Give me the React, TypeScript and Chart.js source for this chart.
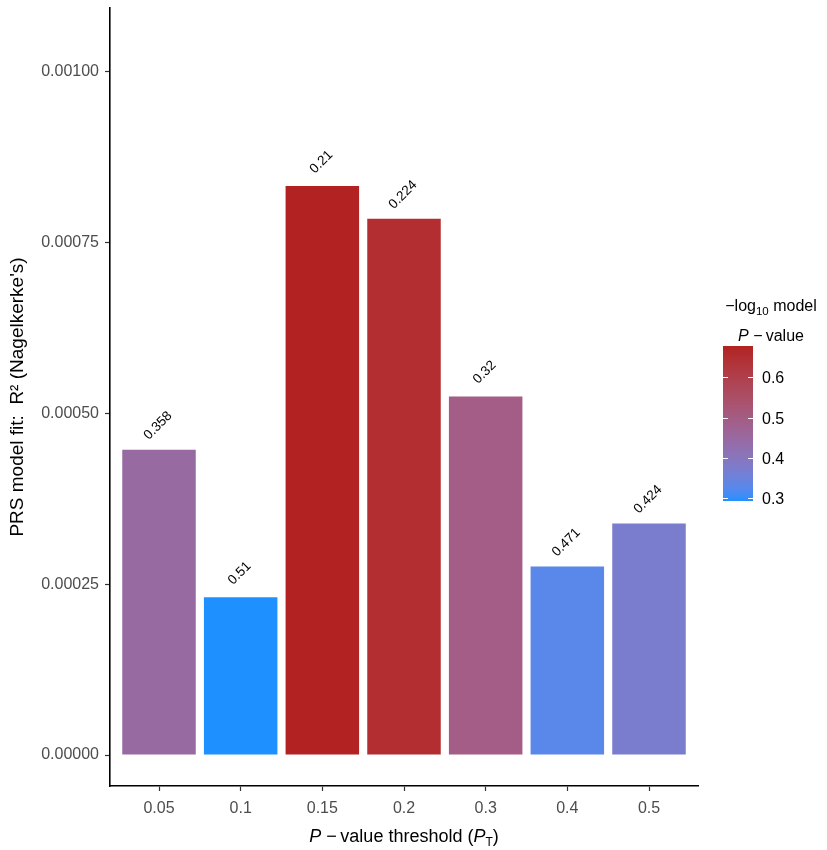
import React, { useRef, useEffect } from "react";
import { Chart, registerables } from "chart.js";

Chart.register(...registerables);

// P-value thresholds (x categories)
const thresholds = ["0.05", "0.1", "0.15", "0.2", "0.3", "0.4", "0.5"];
// PRS model fit R2 (Nagelkerke's)
const r2Values = [0.000447, 0.000231, 0.000833, 0.000785, 0.000525, 0.000276, 0.000339];
// model P-values printed above the bars
const modelP = [0.358, 0.51, 0.21, 0.224, 0.32, 0.471, 0.424];
const yTicks = [0, 0.00025, 0.0005, 0.00075, 0.001];
const legendTicks = [0.3, 0.4, 0.5, 0.6];

const LOW = "#1E90FF";
const HIGH = "#B22222";
const FONT = "'Liberation Sans', Arial, sans-serif";

// colour ramp in Lab space, like ggplot's scale_fill_gradient
const Xn = 0.95047, Yn = 1, Zn = 1.08883;
const toLin = (c: number) => {
  c /= 255;
  return c <= 0.04045 ? c / 12.92 : Math.pow((c + 0.055) / 1.055, 2.4);
};
const fromLin = (c: number) => {
  const v = c <= 0.0031308 ? 12.92 * c : 1.055 * Math.pow(c, 1 / 2.4) - 0.055;
  return Math.round(Math.max(0, Math.min(1, v)) * 255);
};
function hexToLab(hex: string) {
  const r = toLin(parseInt(hex.slice(1, 3), 16));
  const g = toLin(parseInt(hex.slice(3, 5), 16));
  const b = toLin(parseInt(hex.slice(5, 7), 16));
  const X = 0.4124564 * r + 0.3575761 * g + 0.1804375 * b;
  const Y = 0.2126729 * r + 0.7151522 * g + 0.072175 * b;
  const Z = 0.0193339 * r + 0.119192 * g + 0.9503041 * b;
  const f = (t: number) => (t > 216 / 24389 ? Math.cbrt(t) : ((24389 / 27) * t + 16) / 116);
  const fx = f(X / Xn), fy = f(Y / Yn), fz = f(Z / Zn);
  return [116 * fy - 16, 500 * (fx - fy), 200 * (fy - fz)];
}
function labToRgb(L: number, a: number, b: number) {
  const fy = (L + 16) / 116, fx = fy + a / 500, fz = fy - b / 200;
  const finv = (t: number) => (t * t * t > 216 / 24389 ? t * t * t : (116 * t - 16) / (24389 / 27));
  const X = Xn * finv(fx), Y = Yn * finv(fy), Z = Zn * finv(fz);
  const r = 3.2404542 * X - 1.5371385 * Y - 0.4985314 * Z;
  const g = -0.969266 * X + 1.8760108 * Y + 0.041556 * Z;
  const bb = 0.0556434 * X - 0.2040259 * Y + 1.0572252 * Z;
  return `rgb(${fromLin(r)},${fromLin(g)},${fromLin(bb)})`;
}
const labLow = hexToLab(LOW);
const labHigh = hexToLab(HIGH);
const scores = modelP.map((p) => -Math.log10(p));
const sMin = Math.min(...scores);
const sMax = Math.max(...scores);
const colorFor = (s: number) => {
  const t = (s - sMin) / (sMax - sMin);
  return labToRgb(
    labLow[0] + (labHigh[0] - labLow[0]) * t,
    labLow[1] + (labHigh[1] - labLow[1]) * t,
    labLow[2] + (labHigh[2] - labLow[2]) * t
  );
};

// draw rich text runs centred on x
type Run = { text: string; size: number; italic?: boolean; dy?: number };
function drawRuns(ctx: CanvasRenderingContext2D, runs: Run[], cx: number, baseline: number) {
  const font = (r: Run) => `${r.italic ? "italic " : ""}${r.size}px ${FONT}`;
  let total = 0;
  runs.forEach((r) => {
    ctx.font = font(r);
    total += ctx.measureText(r.text).width;
  });
  let x = cx - total / 2;
  ctx.textAlign = "left";
  ctx.textBaseline = "alphabetic";
  runs.forEach((r) => {
    ctx.font = font(r);
    ctx.fillText(r.text, x, baseline + (r.dy || 0));
    x += ctx.measureText(r.text).width;
  });
}

const extrasPlugin = {
  id: "extras",
  afterDraw(chart: any) {
    const ctx: CanvasRenderingContext2D = chart.ctx;
    const area = chart.chartArea;
    ctx.save();
    ctx.fillStyle = "#000";

    // bar labels, rotated 45 degrees
    const meta = chart.getDatasetMeta(0);
    meta.data.forEach((el: any, i: number) => {
      ctx.save();
      ctx.translate(el.x - 1, el.y - 24);
      ctx.rotate(-Math.PI / 4);
      ctx.font = `13.5px ${FONT}`;
      ctx.textAlign = "center";
      ctx.textBaseline = "middle";
      ctx.fillText(String(modelP[i]), 0, 0);
      ctx.restore();
    });

    // x axis title
    drawRuns(
      ctx,
      [
        { text: "P", size: 18, italic: true },
        { text: " \u2212\u2009value threshold (", size: 18 },
        { text: "P", size: 18, italic: true },
        { text: "T", size: 12, dy: 4 },
        { text: ")", size: 18 },
      ],
      (area.left + area.right) / 2,
      842
    );

    // colour bar legend
    const barL = 723, barR = 753, barTop = 346, barBot = 501;
    const yFor = (v: number) => barBot - ((v - sMin) / (sMax - sMin)) * (barBot - barTop);
    for (let y = barTop; y < barBot; y++) {
      const v = sMin + ((barBot - y - 0.5) / (barBot - barTop)) * (sMax - sMin);
      ctx.fillStyle = colorFor(v);
      ctx.fillRect(barL, y, barR - barL, 1);
    }
    ctx.strokeStyle = "#fff";
    ctx.lineWidth = 1;
    ctx.fillStyle = "#000";
    legendTicks.forEach((v) => {
      const y = Math.round(yFor(v)) + 0.5;
      ctx.beginPath();
      ctx.moveTo(barL, y);
      ctx.lineTo(barL + 5, y);
      ctx.moveTo(barR - 5, y);
      ctx.lineTo(barR, y);
      ctx.stroke();
      ctx.font = `16px ${FONT}`;
      ctx.textAlign = "left";
      ctx.textBaseline = "middle";
      ctx.fillText(v.toFixed(1), 762, y + 1);
    });
    drawRuns(
      ctx,
      [
        { text: "\u2212log", size: 16 },
        { text: "10", size: 11.5, dy: 4 },
        { text: " model", size: 16 },
      ],
      771,
      311
    );
    drawRuns(
      ctx,
      [
        { text: "P", size: 16, italic: true },
        { text: " \u2212\u2009value", size: 16 },
      ],
      771,
      341
    );
    ctx.restore();
  },
};

const PrsChart: React.FC = () => {
  const canvasRef = useRef<HTMLCanvasElement>(null);
  const chartInstance = useRef<Chart | null>(null);

  useEffect(() => {
    if (!canvasRef.current) return;
    const ctx = canvasRef.current.getContext("2d");
    if (!ctx) return;

    if (chartInstance.current) {
      chartInstance.current.destroy();
    }

    chartInstance.current = new Chart(ctx, {
      type: "bar",
      data: {
        datasets: [
          {
            data: r2Values.map((v, i) => ({ x: i, y: v })),
            backgroundColor: scores.map((s) => colorFor(s)),
            borderWidth: 0,
            barPercentage: 0.9,
            categoryPercentage: 1.0,
          },
        ],
      },
      options: {
        animation: false,
        responsive: true,
        maintainAspectRatio: false,
        layout: { padding: { left: 0, top: 8, right: 129, bottom: 0 } },
        plugins: {
          legend: { display: false },
          tooltip: { enabled: false },
        },
        scales: {
          x: {
            type: "linear",
            min: -0.6,
            max: 6.6,
            offset: false,
            afterBuildTicks: (scale: any) => {
              scale.ticks = thresholds.map((_, i) => ({ value: i }));
            },
            afterFit: (scale: any) => {
              scale.height = 64;
              scale.paddingLeft = 0;
              scale.paddingRight = 0;
            },
            ticks: {
              callback: (value: any) => thresholds[Number(value)],
              color: "#4D4D4D",
              font: { family: FONT, size: 16 },
              padding: 8,
              maxRotation: 0,
              autoSkip: false,
            },
            grid: {
              display: true,
              offset: false,
              drawOnChartArea: false,
              drawTicks: true,
              tickLength: 5,
              tickColor: "#333",
              tickWidth: 1.2,
            },
            border: { display: true, color: "#000", width: 1.6 },
          },
          y: {
            min: -0.0000453,
            max: 0.0010936,
            afterBuildTicks: (scale: any) => {
              scale.ticks = yTicks.map((v) => ({ value: v }));
            },
            afterFit: (scale: any) => {
              scale.width = 110;
              scale.paddingTop = 0;
              scale.paddingBottom = 0;
            },
            ticks: {
              callback: (value: any) => Number(value).toFixed(5),
              color: "#4D4D4D",
              font: { family: FONT, size: 16 },
              padding: 6,
            },
            grid: {
              display: true,
              drawOnChartArea: false,
              drawTicks: true,
              tickLength: 5,
              tickColor: "#333",
              tickWidth: 1.2,
            },
            border: { display: true, color: "#000", width: 1.6 },
            title: {
              display: true,
              text: "PRS model fit:  R\u00B2 (Nagelkerke's)",
              color: "#000",
              font: { family: FONT, size: 19 },
              padding: { top: 6, bottom: 0 },
            },
          },
        },
      },
      plugins: [extrasPlugin],
    });

    return () => {
      if (chartInstance.current) {
        chartInstance.current.destroy();
        chartInstance.current = null;
      }
    };
  }, []);

  return <canvas ref={canvasRef}></canvas>;
};

export default function App() {
  return (
    <div style={{ position: "absolute", left: 0, top: 0, width: 827, height: 850, background: "#fff" }}>
      <PrsChart />
    </div>
  );
}
